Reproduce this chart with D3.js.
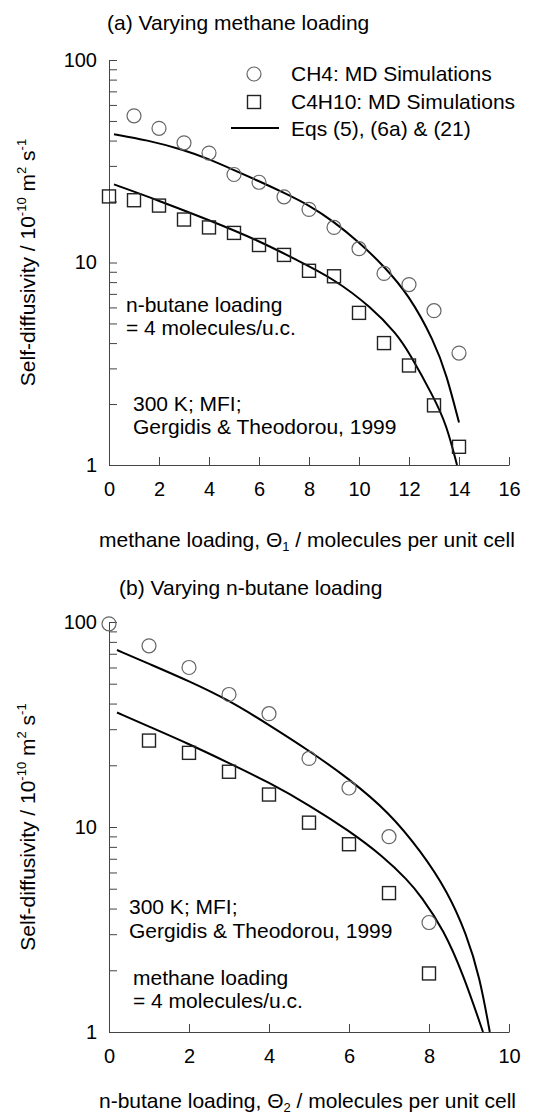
<!DOCTYPE html>
<html>
<head>
<meta charset="utf-8">
<script src="https://cdnjs.cloudflare.com/ajax/libs/d3/7.8.5/d3.min.js"></script>
<style>
  body { margin: 0; background: #fff; }
  svg { display: block; font-family: "Liberation Sans", Arial, Helvetica, sans-serif; }
</style>
</head>
<body>
<svg id="chart" width="534" height="1115"></svg>
<script>
// Panel (a): varying methane loading (n-butane fixed at 4 molecules/u.c.)
const mdLoadingA_CH4 = [1, 2, 3, 4, 5, 6, 7, 8, 9, 10, 11, 12, 13, 14];
const mdDiffA_CH4 = [53, 46, 39, 34.7, 27.2, 24.9, 21.1, 18.3, 14.9, 11.7, 8.83, 7.78, 5.78, 3.57];
const mdLoadingA_C4 = [0, 1, 2, 3, 4, 5, 6, 7, 8, 9, 10, 11, 12, 13, 14];
const mdDiffA_C4 = [21.2, 20.3, 19.1, 16.3, 14.9, 14.0, 12.2, 10.9, 9.1, 8.55, 5.64, 4.0, 3.1, 1.97, 1.23];
const eqLoadingA_CH4 = [0.2, 1.5, 3, 4, 5, 6, 7, 8, 9, 10, 11, 12, 13, 13.5, 14];
const eqDiffA_CH4 = [43.0, 40.3, 36.0, 32.4, 28.6, 25.2, 22.1, 19.2, 15.9, 12.6, 9.6, 6.9, 4.1, 2.8, 1.62];
const eqLoadingA_C4 = [0.2, 2, 4, 6, 7.5, 9, 10.5, 11.5, 12, 13, 13.5, 13.92];
const eqDiffA_C4 = [24.3, 20.2, 16.2, 12.8, 10.3, 8.3, 6.0, 4.45, 3.6, 2.15, 1.58, 1.0];
const xTicksA = [0, 2, 4, 6, 8, 10, 12, 14, 16];

// Panel (b): varying n-butane loading (methane fixed at 4 molecules/u.c.)
const mdLoadingB_CH4 = [0, 1, 2, 3, 4, 5, 6, 7, 8];
const mdDiffB_CH4 = [98, 76.5, 60, 44.3, 35.7, 21.6, 15.5, 8.97, 3.42];
const mdLoadingB_C4 = [1, 2, 3, 4, 5, 6, 7, 8];
const mdDiffB_C4 = [26.4, 23.0, 18.6, 14.4, 10.5, 8.24, 4.76, 1.93];
const eqLoadingB_CH4 = [0.2, 1, 2, 3, 4, 5, 6, 7, 7.8, 8.45, 8.94, 9.27, 9.52];
const eqDiffB_CH4 = [73, 62.5, 51.5, 41.5, 31.5, 23.6, 17.2, 11.8, 7.6, 4.9, 3.0, 1.85, 1.0];
const eqLoadingB_C4 = [0.2, 1, 2, 3, 4, 5, 6, 6.85, 7.47, 7.8, 8.37, 8.86, 9.35];
const eqDiffB_C4 = [36.2, 30.9, 25.4, 20.5, 16.5, 12.8, 9.6, 7.2, 5.5, 4.6, 3.15, 1.9, 1.0];
const xTicksB = [0, 2, 4, 6, 8, 10];

// log axis: ticks at every 1..9 per decade, labels only on decades
const yTickValues = [1, 2, 3, 4, 5, 6, 7, 8, 9, 10, 20, 30, 40, 50, 60, 70, 80, 90, 100];
const yTickLabels = {1: "1", 10: "10", 100: "100"};

const svg = d3.select("#chart");
svg.append("rect").attr("width", 534).attr("height", 1115).attr("fill", "#fff");

const zip = (xs, ys) => xs.map((v, i) => [v, ys[i]]);

function drawPanel(p) {
  const x = d3.scaleLinear().domain([0, p.xMax]).range([109, 509]);
  const y = d3.scaleLog().domain([1, 100]).range([p.yBottom, p.yTop]);
  const g = svg.append("g");

  // axes (ticks point inward)
  const xAxis = g.append("g")
    .attr("transform", `translate(0,${p.yBottom})`)
    .call(d3.axisBottom(x).tickValues(p.xTicks).tickSizeInner(-8).tickSizeOuter(0).tickPadding(17));
  const yAxis = g.append("g")
    .attr("transform", "translate(109,0)")
    .call(d3.axisLeft(y).tickValues(yTickValues).tickFormat(d => yTickLabels[d] || "")
      .tickSizeInner(-8).tickSizeOuter(0).tickPadding(12));
  [xAxis, yAxis].forEach(a => {
    a.attr("font-family", null).attr("font-size", 20);
    a.selectAll("path, line").attr("stroke", "#444");
    a.selectAll("text").attr("fill", "#000");
  });

  // model curves (smoothed through the read-off points)
  const line = d3.line().x(d => x(d[0])).y(d => y(d[1])).curve(d3.curveBasis);
  [zip(p.eqX1, p.eqY1), zip(p.eqX2, p.eqY2)].forEach(pts => {
    g.append("path").attr("d", line(pts))
      .attr("fill", "none").attr("stroke", "#000").attr("stroke-width", 2);
  });

  // MD points
  g.append("g").selectAll("circle")
    .data(zip(p.mdX1, p.mdY1))
    .enter().append("circle")
    .attr("cx", d => x(d[0])).attr("cy", d => y(d[1])).attr("r", 7)
    .attr("fill", "none").attr("stroke", "#666").attr("stroke-width", 1.2);
  g.append("g").selectAll("rect")
    .data(zip(p.mdX2, p.mdY2))
    .enter().append("rect")
    .attr("x", d => x(d[0]) - 6.5).attr("y", d => y(d[1]) - 6.5)
    .attr("width", 13).attr("height", 13)
    .attr("fill", "none").attr("stroke", "#222").attr("stroke-width", 1.4);

  // panel title
  g.append("text").attr("x", p.titleX).attr("y", p.titleY).attr("font-size", 21).text(p.title);

  // x axis title with subscript
  const xt = g.append("text").attr("x", 99).attr("y", p.xTitleY).attr("font-size", 21);
  xt.append("tspan").text(p.xTitle[0] + ", \u0398");
  xt.append("tspan").attr("font-size", 13).attr("dy", 4).text(p.xTitle[1]);
  xt.append("tspan").attr("dy", -4).text(" / molecules per unit cell");

  // y axis title with superscripts
  const yt = g.append("text").attr("transform", `translate(35,${y(10)}) rotate(-90)`)
    .attr("text-anchor", "middle").attr("font-size", 21);
  yt.append("tspan").text("Self-diffusivity / 10");
  yt.append("tspan").attr("font-size", 13).attr("dy", -9).text("-10");
  yt.append("tspan").attr("dy", 9).text(" m");
  yt.append("tspan").attr("font-size", 13).attr("dy", -9).text("2");
  yt.append("tspan").attr("dy", 9).text(" s");
  yt.append("tspan").attr("font-size", 13).attr("dy", -9).text("-1");

  // notes
  p.notes.forEach(n => {
    g.append("text").attr("x", n.x).attr("y", n.y).attr("font-size", 21).text(n.t);
  });
  return g;
}

const gA = drawPanel({
  xMax: 16, xTicks: xTicksA, yTop: 60, yBottom: 465,
  mdX1: mdLoadingA_CH4, mdY1: mdDiffA_CH4, mdX2: mdLoadingA_C4, mdY2: mdDiffA_C4,
  eqX1: eqLoadingA_CH4, eqY1: eqDiffA_CH4, eqX2: eqLoadingA_C4, eqY2: eqDiffA_C4,
  title: "(a) Varying methane loading", titleX: 107, titleY: 30,
  xTitle: ["methane loading", "1"], xTitleY: 547,
  notes: [
    {x: 126, y: 312, t: "n-butane loading"},
    {x: 126, y: 335, t: "= 4 molecules/u.c."},
    {x: 133, y: 411, t: "300 K; MFI;"},
    {x: 133, y: 434, t: "Gergidis & Theodorou, 1999"}
  ]
});

drawPanel({
  xMax: 10, xTicks: xTicksB, yTop: 622, yBottom: 1032,
  mdX1: mdLoadingB_CH4, mdY1: mdDiffB_CH4, mdX2: mdLoadingB_C4, mdY2: mdDiffB_C4,
  eqX1: eqLoadingB_CH4, eqY1: eqDiffB_CH4, eqX2: eqLoadingB_C4, eqY2: eqDiffB_C4,
  title: "(b) Varying n-butane loading", titleX: 119, titleY: 595,
  xTitle: ["n-butane loading", "2"], xTitleY: 1108,
  notes: [
    {x: 129, y: 914, t: "300 K; MFI;"},
    {x: 129, y: 938, t: "Gergidis & Theodorou, 1999"},
    {x: 133, y: 985, t: "methane loading"},
    {x: 133, y: 1008, t: "= 4 molecules/u.c."}
  ]
});

// legend for panel (a)
const leg = gA.append("g").attr("font-size", 21);
leg.append("circle").attr("cx", 254).attr("cy", 74).attr("r", 7)
  .attr("fill", "none").attr("stroke", "#666").attr("stroke-width", 1.2);
leg.append("rect").attr("x", 247.5).attr("y", 95.5).attr("width", 13).attr("height", 13)
  .attr("fill", "none").attr("stroke", "#222").attr("stroke-width", 1.4);
leg.append("line").attr("x1", 231).attr("x2", 279).attr("y1", 128).attr("y2", 128)
  .attr("stroke", "#000").attr("stroke-width", 2);
leg.append("text").attr("x", 291).attr("y", 81).text("CH4: MD Simulations");
leg.append("text").attr("x", 291).attr("y", 109).text("C4H10: MD Simulations");
leg.append("text").attr("x", 291).attr("y", 136).text("Eqs (5), (6a) & (21)");
</script>
</body>
</html>
